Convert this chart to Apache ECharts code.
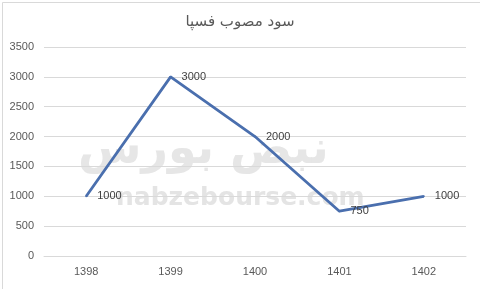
<!DOCTYPE html>
<html><head><meta charset="utf-8">
<script src="https://cdn.jsdelivr.net/npm/echarts@6/dist/echarts.min.js"></script>
<style>html,body{margin:0;padding:0;background:#fff}#c{width:480px;height:289px}</style>
</head><body><div id="c"></div>
<script>
const titleText = 'سود مصوب فسپا';
const categories = ['1398', '1399', '1400', '1401', '1402'];
const values = [1000, 3000, 2000, 750, 1000];
const yTicks = { min: 0, max: 3500, interval: 500 };

const chart = echarts.init(document.getElementById('c'), null, { renderer: 'canvas' });
chart.setOption({
  animation: false,
  backgroundColor: '#ffffff',
  title: {
    text: titleText, left: 'center', top: 10,
    textStyle: { fontFamily: 'DejaVu Sans', fontSize: 15, fontWeight: 'normal', color: '#595959' }
  },
  graphic: [
    { type: 'rect', left: 0, top: 0, z: -10, silent: true,
      shape: { x: 0.5, y: 0.5, width: 479, height: 288 },
      style: { fill: 'none', stroke: '#d9d9d9', lineWidth: 1 } },
    { type: 'text', left: 78, top: 128, z: -5, silent: true,
      style: { text: 'نبض بورس', fontFamily: 'DejaVu Sans', fontSize: 46, fontWeight: 'bold', fill: '#e6e6e6' } },
    { type: 'text', left: 116, top: 186, z: -5, silent: true,
      style: { text: 'nabzebourse.com', fontFamily: 'DejaVu Sans', fontSize: 25, fontWeight: 'bold', fill: '#e4e4e4' } }
  ],
  grid: { left: 44, right: 14, top: 47, bottom: 33, containLabel: false },
  xAxis: {
    type: 'category', data: categories, boundaryGap: true,
    axisLine: { show: true, lineStyle: { color: '#d9d9d9' } },
    axisTick: { show: false },
    axisLabel: { color: '#595959', fontFamily: 'Liberation Sans', fontSize: 11, margin: 10 }
  },
  yAxis: {
    type: 'value', min: yTicks.min, max: yTicks.max, interval: yTicks.interval,
    axisLine: { show: false }, axisTick: { show: false },
    splitLine: { lineStyle: { color: '#d9d9d9' } },
    axisLabel: { color: '#595959', fontFamily: 'Liberation Sans', fontSize: 11, margin: 10, formatter: v => String(v) }
  },
  series: [{
    type: 'line', data: values, symbol: 'circle', symbolSize: 2, showSymbol: true, z: 5,
    itemStyle: { color: '#4A6FAE', borderWidth: 0 },
    lineStyle: { color: '#4A6FAE', width: 2.8 },
    label: { show: true, position: 'right', distance: 10, color: '#404040', fontFamily: 'Liberation Sans', fontSize: 11, opacity: 1 }
  }]
});
</script></body></html>
